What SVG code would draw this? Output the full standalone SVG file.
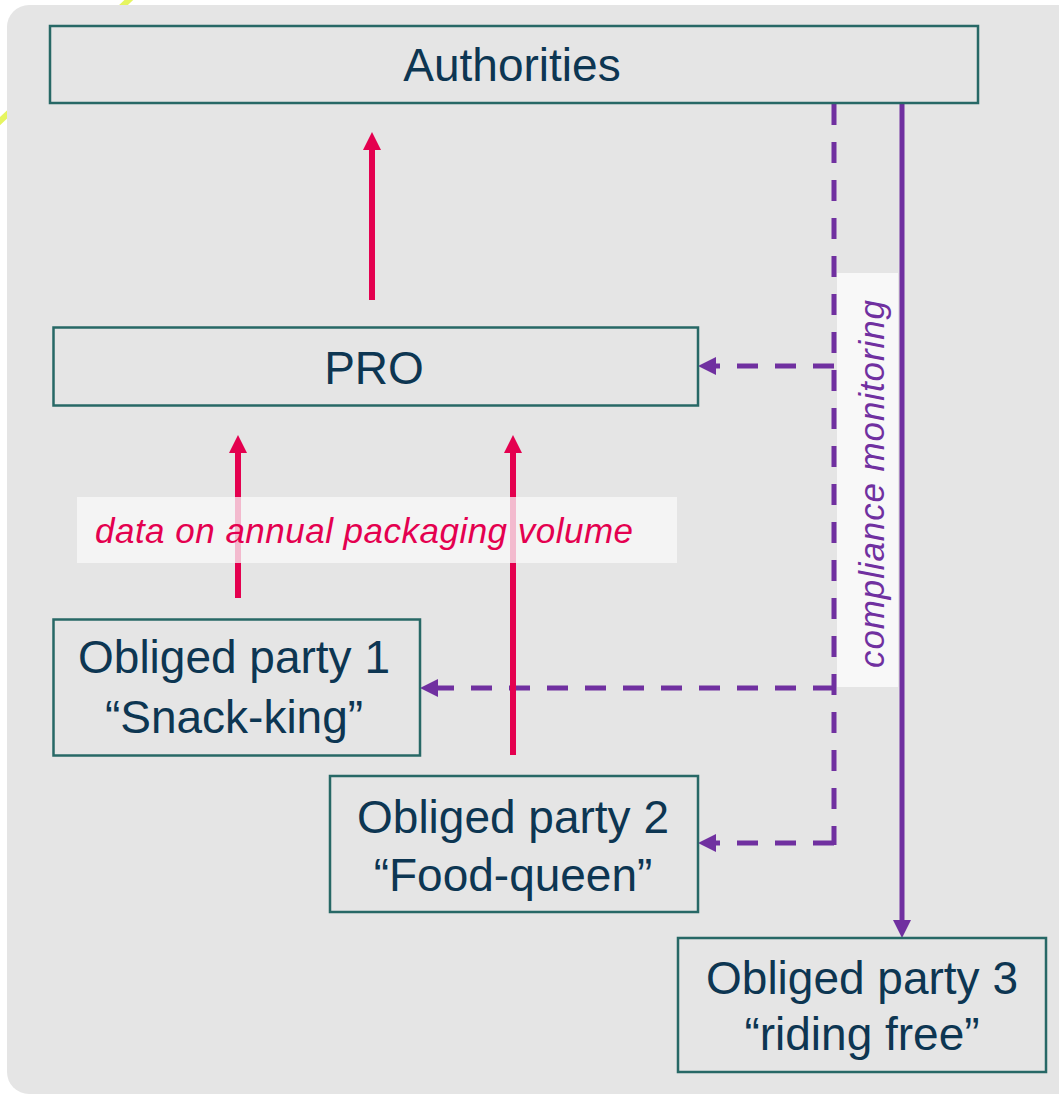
<svg xmlns="http://www.w3.org/2000/svg" width="1059" height="1096" viewBox="0 0 1059 1096">
  <defs>
    <style>
      .node rect { fill: none; stroke: #276866; stroke-width: 2.5; }
      .node text { font-family: "Liberation Sans", Arial, sans-serif; font-size: 46px; fill: #0d3652; text-anchor: middle; }
      .pink { stroke: #e4004f; stroke-width: 6; fill: none; }
      .purple { stroke: #7030a0; stroke-width: 5; fill: none; }
      .dash { stroke-dasharray: 21 17; }
      .lbl { fill: #f8f8f8; }
      .lbltext { font-family: "Liberation Sans", Arial, sans-serif; font-style: italic; font-size: 35px; }
    </style>
    <marker id="pinkHead" markerUnits="userSpaceOnUse" markerWidth="18" markerHeight="18" refX="0" refY="9" orient="auto" viewBox="0 0 18 18">
      <path d="M0,0 L18,9 L0,18 Z" fill="#e4004f"/>
    </marker>
    <marker id="purpleHead" markerUnits="userSpaceOnUse" markerWidth="18" markerHeight="18" refX="0" refY="9" orient="auto" viewBox="0 0 18 18">
      <path d="M0,0 L18,9 L0,18 Z" fill="#7030a0"/>
    </marker>
  </defs>

  <rect width="1059" height="1096" fill="#ffffff"/>
  <path d="M132,-3 L-3,124" stroke="#e6f560" stroke-width="6" fill="none"/>
  <rect x="7" y="5" width="1080" height="1089" rx="22" ry="22" fill="#e5e5e5"/>

  <g id="connectors">
    <line class="purple dash" x1="834" y1="104" x2="834" y2="845"/>
    <line class="purple dash" x1="834" y1="366" x2="716" y2="366" marker-end="url(#purpleHead)"/>
    <line class="purple dash" x1="834" y1="688" x2="438" y2="688" marker-end="url(#purpleHead)"/>
    <line class="purple dash" x1="834" y1="843" x2="716" y2="843" marker-end="url(#purpleHead)"/>

    <line class="purple" x1="902" y1="104" x2="902" y2="920" stroke-width="6" marker-end="url(#purpleHead)"/>

    <line class="pink" x1="372" y1="300" x2="372" y2="150" marker-end="url(#pinkHead)"/>
    <line class="pink" x1="238" y1="598" x2="238" y2="453" marker-end="url(#pinkHead)"/>
    <line class="pink" x1="513" y1="755" x2="513" y2="453" marker-end="url(#pinkHead)"/>

    <g id="label-data">
      <rect class="lbl" x="77" y="497" width="600" height="66" opacity="0.75"/>
      <text class="lbltext" x="95" y="543" fill="#e4004f" textLength="538">data on annual packaging volume</text>
    </g>
    <g id="label-compliance">
      <rect class="lbl" x="837" y="273" width="61" height="414"/>
      <text class="lbltext" transform="translate(884,484) rotate(-90)" x="0" y="0" text-anchor="middle" fill="#7030a0" textLength="368">compliance monitoring</text>
    </g>
  </g>

  <g id="authorities" class="node">
    <rect x="50" y="26" width="928" height="77"/>
    <text x="512" y="81">Authorities</text>
  </g>
  <g id="pro" class="node">
    <rect x="53.5" y="327.5" width="644.5" height="78"/>
    <text x="374" y="384">PRO</text>
  </g>
  <g id="party1" class="node">
    <rect x="53.5" y="619.5" width="366.5" height="136"/>
    <text x="234" y="673">Obliged party 1</text>
    <text x="234" y="733">“Snack-king”</text>
  </g>
  <g id="party2" class="node">
    <rect x="330" y="776" width="368" height="136"/>
    <text x="513" y="833">Obliged party 2</text>
    <text x="513" y="891">“Food-queen”</text>
  </g>
  <g id="party3" class="node">
    <rect x="678" y="938" width="368" height="134"/>
    <text x="862" y="994">Obliged party 3</text>
    <text x="862" y="1050">“riding free”</text>
  </g>
</svg>
